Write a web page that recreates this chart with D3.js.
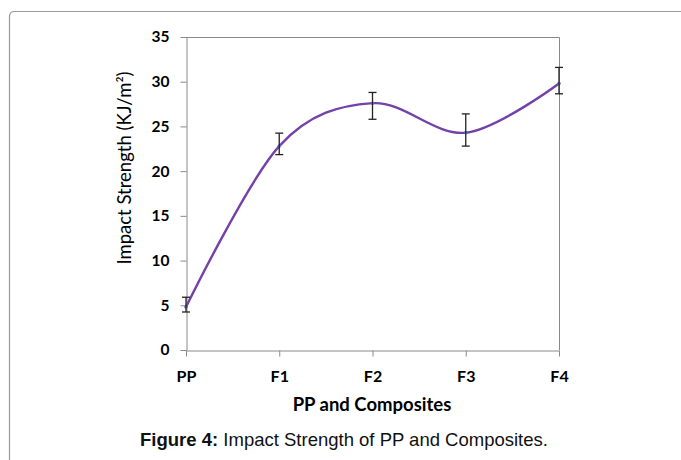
<!DOCTYPE html>
<html>
<head>
<meta charset="utf-8">
<script src="https://cdn.jsdelivr.net/npm/d3@7"></script>
<style>
  html, body { margin: 0; padding: 0; background: #fff; }
  svg { display: block; }
</style>
</head>
<body>
<svg id="chart" width="681" height="460"></svg>
<script>
// Impact strength of PP and its composites (KJ/m²), mean with error range
const categories = ["PP", "F1", "F2", "F3", "F4"];
const strength = [4.8, 22.8, 27.6, 24.3, 29.8];
const errLow = [4.25, 21.85, 25.8, 22.8, 28.65];
const errHigh = [5.9, 24.25, 28.8, 26.4, 31.6];
const yTicks = [0, 5, 10, 15, 20, 25, 30, 35];

const svg = d3.select("#chart");
const W = 681, H = 460;
const plot = { left: 186, right: 559, top: 37, bottom: 350 };

// outer frame
svg.append("path")
  .attr("d", `M9.5,${H + 5} L9.5,16.5 Q9.5,11.5 14.5,11.5 L${W + 5},11.5`)
  .attr("fill", "none")
  .attr("stroke", "#9a9a9a")
  .attr("stroke-width", 1.2);

const x = d3.scalePoint().domain(categories).range([plot.left, plot.right]);
const y = d3.scaleLinear().domain([0, 35]).range([plot.bottom, plot.top]);

const axisColor = "#8a8a8a";
const labelFont = "Lato, 'Open Sans', sans-serif";

// plot-area border (top and right)
svg.append("path")
  .attr("d", `M${plot.left},${plot.top + 0.5} L${plot.right + 0.5},${plot.top + 0.5} L${plot.right + 0.5},${plot.bottom}`)
  .attr("fill", "none")
  .attr("stroke", axisColor)
  .attr("stroke-width", 1);

// y axis
const yAxis = svg.append("g")
  .attr("transform", `translate(${plot.left + 0.5},0)`)
  .call(d3.axisLeft(y).tickValues(yTicks).tickSize(6).tickPadding(11).tickSizeOuter(0));
yAxis.select(".domain").attr("stroke", axisColor);
yAxis.selectAll(".tick line").attr("stroke", axisColor);
yAxis.selectAll(".tick text")
  .attr("fill", "#000")
  .style("font-family", labelFont)
  .style("font-weight", "bold")
  .style("font-size", "15.5px");

// x axis
const xAxis = svg.append("g")
  .attr("transform", `translate(0,${plot.bottom + 0.5})`)
  .call(d3.axisBottom(x).tickSize(6).tickPadding(14).tickSizeOuter(0));
xAxis.select(".domain").attr("stroke", axisColor);
xAxis.selectAll(".tick line").attr("stroke", axisColor);
xAxis.selectAll(".tick text")
  .attr("fill", "#000")
  .style("font-family", labelFont)
  .style("font-weight", "bold")
  .style("font-size", "16px");

// axis titles
svg.append("text")
  .attr("transform", `translate(131,168) rotate(-90)`)
  .attr("text-anchor", "middle")
  .style("font-family", labelFont)
  .style("font-size", "18.5px")
  .attr("fill", "#000")
  .text("Impact Strength (KJ/m²)");

svg.append("text")
  .attr("x", 372)
  .attr("y", 411)
  .attr("text-anchor", "middle")
  .style("font-family", labelFont)
  .style("font-weight", "bold")
  .style("font-size", "18.5px")
  .attr("fill", "#000")
  .text("PP and Composites");

// caption
const cap = svg.append("text")
  .attr("x", 344)
  .attr("y", 446)
  .attr("text-anchor", "middle")
  .style("font-family", "'Liberation Sans', Arial, sans-serif")
  .style("font-size", "18.5px")
  .attr("fill", "#111");
cap.append("tspan").style("font-weight", "bold").text("Figure 4:");
cap.append("tspan").text(" Impact Strength of PP and Composites.");

// smoothed line
const pts = categories.map((c, i) => [x(c), y(strength[i])]);
svg.append("path")
  .datum(pts)
  .attr("d", d3.line().curve(d3.curveCardinal.tension(0)))
  .attr("fill", "none")
  .attr("stroke", "#7440aa")
  .attr("stroke-width", 2.4);

// point markers
svg.selectAll("circle.pt")
  .data(pts)
  .join("circle")
  .attr("class", "pt")
  .attr("cx", d => d[0])
  .attr("cy", d => d[1])
  .attr("r", 1.8)
  .attr("fill", "#5b6fc8");

// error bars
const eb = svg.append("g").attr("stroke", "#222").attr("stroke-width", 1.3).attr("fill", "none");
categories.forEach((c, i) => {
  const cx = x(c);
  eb.append("line").attr("x1", cx).attr("x2", cx).attr("y1", y(errLow[i])).attr("y2", y(errHigh[i]));
  eb.append("line").attr("x1", cx - 4).attr("x2", cx + 4).attr("y1", y(errLow[i])).attr("y2", y(errLow[i]));
  eb.append("line").attr("x1", cx - 4).attr("x2", cx + 4).attr("y1", y(errHigh[i])).attr("y2", y(errHigh[i]));
});
</script>
</body>
</html>
